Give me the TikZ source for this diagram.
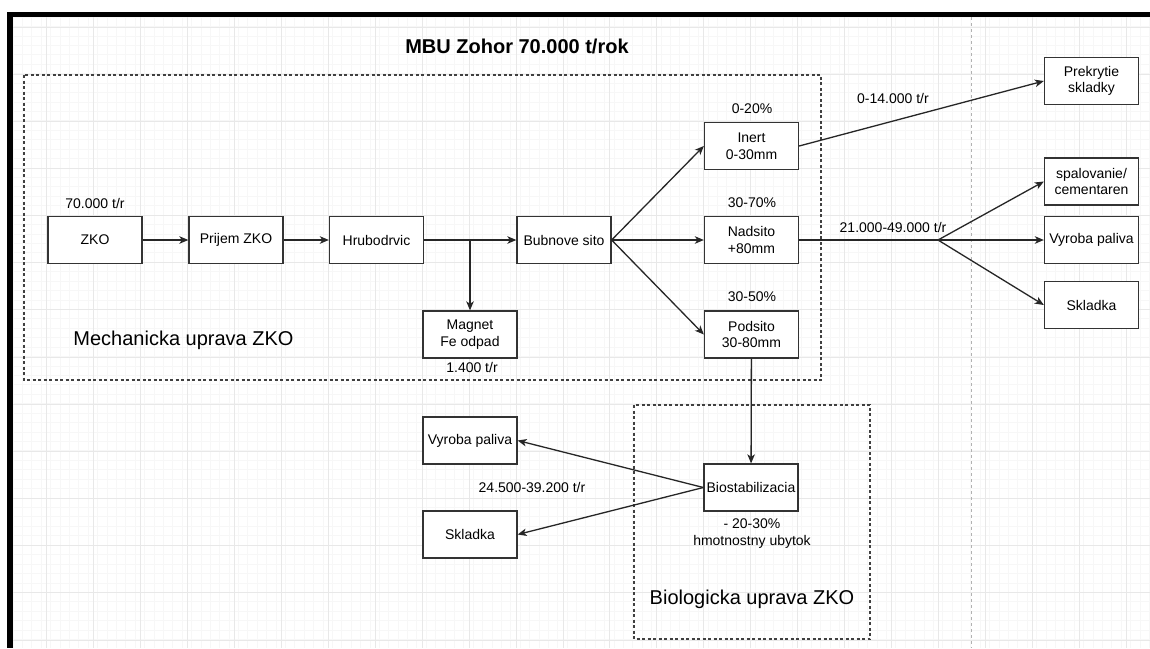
\documentclass[tikz,border=0pt]{standalone}
\usepackage{fontspec}
\setmainfont{Liberation Sans}
\usetikzlibrary{arrows.meta}
\definecolor{boxline}{HTML}{333333}
\definecolor{gridmaj}{HTML}{E8E8E8}
\definecolor{gridmin}{HTML}{F7F7F7}
\tikzset{
  box/.style={draw=boxline, line width=1.3pt, fill=white, minimum width=94pt, minimum height=47pt, inner sep=1pt, align=center, font=\fontsize{14}{16.5}\selectfont},
  lbl/.style={inner sep=0pt, align=center, font=\fontsize{14}{16.5}\selectfont},
  biglbl/.style={inner sep=0pt, font=\fontsize{20}{24}\selectfont},
  flow/.style={draw=black!85, line width=1.3pt, -{Stealth[length=9pt,width=7.5pt,inset=2.5pt]}},
  plain/.style={draw=black!85, line width=1.3pt},
  region/.style={draw=black!75, line width=1.2pt, dash pattern=on 3pt off 2.5pt}
}
\begin{document}
\begin{tikzpicture}[x=1pt,y=-1pt]
\useasboundingbox (0,0) rectangle (1150,648);
\fill[white] (0,0) rectangle (1150,648);
% grid
\foreach \i in {0,...,125} {
  \draw[gridmin, line width=0.6pt] ({13+\i*9.39},17) -- ({13+\i*9.39},648);
}
\foreach \i in {0,...,70} {
  \draw[gridmin, line width=0.6pt] (13,{17+\i*9.43}) -- (1150,{17+\i*9.43});
}
\foreach \i in {0,...,24} {
  \draw[gridmaj, line width=0.9pt] ({46.5+\i*46.95},17) -- ({46.5+\i*46.95},648);
}
\foreach \i in {0,...,13} {
  \draw[gridmaj, line width=0.9pt] (13,{27+\i*47.15}) -- (1150,{27+\i*47.15});
}
% page break line
\draw[black!30, line width=1pt, dash pattern=on 3pt off 3pt] (971,17) -- (971,648);
% frame
\fill[black] (7,12) rectangle (1150,17);
\fill[black] (7,12) rectangle (13,648);

% regions
\draw[region] (24,75) rectangle (821,380);
\draw[region] (634,405) rectangle (870,639);

% title
\node[biglbl, font=\fontsize{20}{24}\selectfont\bfseries] (title) at (517,46) {MBU Zohor 70.000 t/rok};
\node[biglbl] (mech) at (183.5,340) {Mechanicka uprava ZKO};
\node[biglbl] (bio) at (752,599) {Biologicka uprava ZKO};

% boxes
\node[box] (zko) at (95,240) {ZKO};
\node[box] (prijem) at (236,240) {Prijem ZKO};
\node[box] (hrub) at (376.5,240) {Hrubodrvic};
\node[box] (bub) at (564,240) {Bubnove sito};
\node[box] (mag) at (470,334.5) {Magnet\\Fe odpad};
\node[box] (inert) at (751.5,146) {Inert\\0-30mm};
\node[box] (nad) at (751.5,240) {Nadsito\\+80mm};
\node[box] (pod) at (751.5,334.5) {Podsito\\30-80mm};
\node[box] (prek) at (1091.5,81) {Prekrytie\\skladky};
\node[box] (spal) at (1091.5,181.5) {spalovanie/\\cementaren};
\node[box] (vyrR) at (1091.5,240) {Vyroba paliva};
\node[box] (sklR) at (1091.5,305) {Skladka};
\node[box] (biost) at (751,487.5) {Biostabilizacia};
\node[box] (vyrL) at (470,440.5) {Vyroba paliva};
\node[box] (sklL) at (470,534.5) {Skladka};

% labels
\node[lbl] (l70) at (95,203) {70.000 t/r};
\node[lbl] (l020) at (752,109) {0-20\%};
\node[lbl] (l3070) at (752,203) {30-70\%};
\node[lbl] (l3050) at (752,297) {30-50\%};
\node[lbl] (l1400) at (472,367) {1.400 t/r};
\node[lbl] (l014) at (893,98) {0-14.000 t/r};
\node[lbl] (l2149) at (893,227) {21.000-49.000 t/r};
\node[lbl] (l2439) at (532,487) {24.500-39.200 t/r};
\node[lbl] (lub) at (752,533.5) {- 20-30\%\\hmotnostny ubytok};

% junctions
\coordinate (jm) at (470,240);
\coordinate (jn) at (938,240);

% connectors
\draw[flow] (zko) -- (prijem);
\draw[flow] (prijem) -- (hrub);
\draw[flow] (hrub) -- (bub);
\draw[flow] (jm) -- (mag);
\draw[flow] (bub.east) -- (inert.west);
\draw[flow] (bub.east) -- (nad.west);
\draw[flow] (bub.east) -- (pod.west);
\draw[flow] (inert.east) -- (prek.west);
\draw[plain] (nad.east) -- (jn);
\draw[flow] (jn) -- (spal.west);
\draw[flow] (jn) -- (vyrR.west);
\draw[flow] (jn) -- (sklR.west);
\draw[flow] (pod) -- (biost);
\draw[flow] (biost.west) -- (vyrL.east);
\draw[flow] (biost.west) -- (sklL.east);
\end{tikzpicture}
\end{document}
